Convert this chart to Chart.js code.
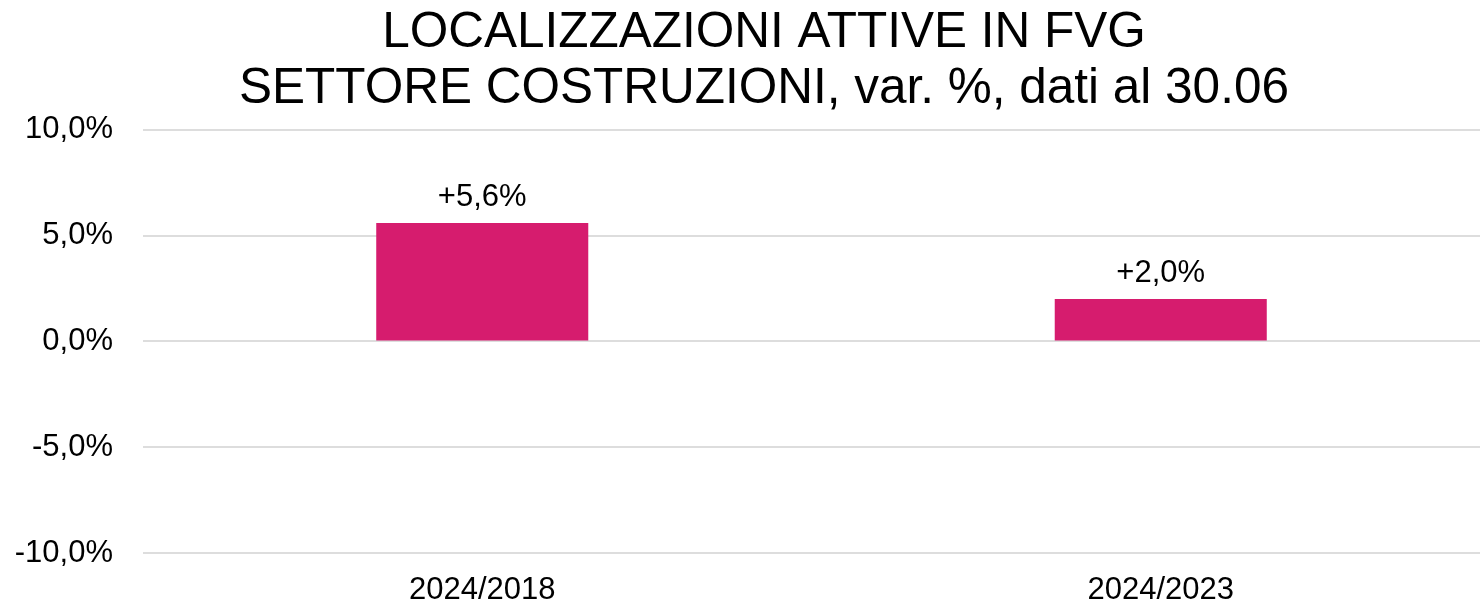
<!DOCTYPE html>
<html>
<head>
<meta charset="utf-8">
<script src="https://cdn.jsdelivr.net/npm/chart.js@4"></script>
<style>
html, body { margin: 0; padding: 0; overflow: hidden; background: #fff; }
#wrap { width: 1528px; height: 605px; position: relative; }
</style>
</head>
<body>
<div id="wrap"><canvas id="c"></canvas></div>
<script>
const titleLines = ['LOCALIZZAZIONI ATTIVE IN FVG', 'SETTORE COSTRUZIONI, var. %, dati al 30.06'];
const categories = ['2024/2018', '2024/2023'];
const values = [5.6, 2.0];
const yMin = -10, yMax = 10, yStep = 5;

const fmt = v => v.toFixed(1).replace('.', ',') + '%';
const FONT = '"Liberation Sans", Arial, sans-serif';

const barLabels = {
  id: 'barLabels',
  afterLayout(chart) {
    // let the y tick labels use the left margin too (avoid clipping "-10,0%")
    chart.scales.y.left = 0;
  },
  afterDatasetsDraw(chart) {
    const ctx = chart.ctx;
    const meta = chart.getDatasetMeta(0);
    ctx.save();
    ctx.font = '31px ' + FONT;
    ctx.fillStyle = '#000';
    ctx.textAlign = 'center';
    ctx.textBaseline = 'alphabetic';
    meta.data.forEach((bar, i) => {
      const v = values[i];
      ctx.fillText((v > 0 ? '+' : '') + fmt(v), bar.x, bar.y - 17);
    });
    ctx.restore();
  }
};

new Chart(document.getElementById('c'), {
  type: 'bar',
  data: {
    labels: categories,
    datasets: [{
      data: values,
      backgroundColor: '#D61C6E',
      borderWidth: 0,
      categoryPercentage: 1,
      barPercentage: 0.3125
    }]
  },
  options: {
    responsive: true,
    maintainAspectRatio: false,
    animation: false,
    layout: { padding: { left: 28, right: 28, top: 0, bottom: 0 } },
    plugins: {
      legend: { display: false },
      tooltip: { enabled: false },
      title: {
        display: true,
        text: titleLines,
        color: '#000',
        font: { family: FONT, size: 49.5, weight: 'normal', lineHeight: 1.13 },
        padding: { top: 5, bottom: 13 }
      }
    },
    scales: {
      x: {
        grid: { display: false, drawTicks: false },
        border: { display: false },
        afterFit: s => { s.height = 52; },
        ticks: {
          color: '#000',
          padding: 22,
          font: { family: FONT, size: 31, lineHeight: 1 }
        }
      },
      y: {
        min: yMin, max: yMax,
        grid: { color: '#DDDDDD', lineWidth: 2, drawTicks: false },
        border: { display: false },
        afterFit: s => { s.width = 115; },
        ticks: {
          stepSize: yStep,
          color: '#000',
          padding: 30,
          font: { family: FONT, size: 31 },
          callback: v => fmt(v)
        }
      }
    }
  },
  plugins: [barLabels]
});
</script>
</body>
</html>
